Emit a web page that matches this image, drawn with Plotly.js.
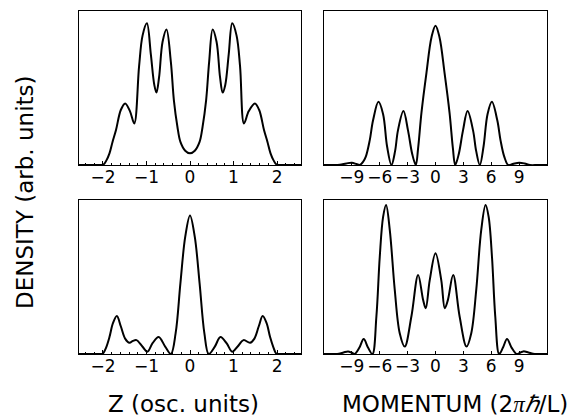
<!DOCTYPE html>
<html><head><meta charset="utf-8">
<script src="https://cdn.plot.ly/plotly-3.0.1.min.js"></script>
<style>html,body{margin:0;padding:0;background:#fff}</style>
</head><body>
<div id="chart" style="width:577px;height:420px"></div>
<script>
// Top-left: density vs position Z (osc. units)
const posTopX = [-2.55,-2.3,-2.05,-1.98,-1.92,-1.85,-1.78,-1.70,-1.59,-1.49,-1.38,-1.28,-1.17,-1.09,-0.99,-0.90,-0.82,-0.77,-0.71,-0.63,-0.54,-0.44,-0.37,-0.29,-0.22,-0.11,0,0.11,0.22,0.29,0.37,0.44,0.52,0.61,0.69,0.75,0.81,0.89,0.97,1.07,1.15,1.24,1.35,1.49,1.59,1.70,1.78,1.85,1.92,1.98,2.05,2.3,2.55];
const posTopY = [0,0,0,0.005,0.03,0.076,0.15,0.227,0.357,0.40,0.35,0.27,0.64,0.84,0.92,0.72,0.52,0.47,0.57,0.80,0.88,0.67,0.42,0.25,0.15,0.093,0.076,0.093,0.15,0.25,0.42,0.67,0.88,0.80,0.57,0.47,0.52,0.72,0.92,0.84,0.64,0.27,0.35,0.40,0.357,0.227,0.15,0.076,0.03,0.005,0,0,0];

// Top-right: momentum distribution
const momTopX = [-12,-11,-10.3,-9.6,-9.0,-8.5,-8.16,-7.8,-7.5,-7.08,-6.72,-6.14,-5.64,-5.21,-4.74,-4.35,-4.04,-3.45,-2.96,-2.5,-2.12,-1.87,-1.51,-0.97,-0.43,0,0.43,0.97,1.51,1.87,2.12,2.5,2.96,3.45,4.04,4.38,4.77,5.17,5.6,6.07,6.65,7.0,7.4,7.83,8.3,9.0,9.6,10.16,11,12];
const momTopY = [0,0,0.002,0.01,0.015,0.006,0,0.02,0.054,0.16,0.29,0.41,0.33,0.12,0,0.09,0.225,0.35,0.225,0.07,0,0.11,0.34,0.60,0.83,0.905,0.83,0.60,0.34,0.11,0,0.07,0.225,0.35,0.225,0.09,0,0.12,0.33,0.41,0.29,0.16,0.054,0,0.006,0.015,0.01,0,0,0];

// Bottom-left: density vs position
const posBotX = [-2.55,-2.3,-2.05,-2.0,-1.93,-1.85,-1.77,-1.68,-1.59,-1.49,-1.39,-1.31,-1.23,-1.09,-0.98,-0.86,-0.72,-0.57,-0.44,-0.33,-0.22,-0.11,0,0.11,0.22,0.33,0.43,0.57,0.70,0.84,0.97,1.09,1.23,1.38,1.48,1.58,1.67,1.76,1.84,1.92,1.98,2.05,2.3,2.55];
const posBotY = [0,0,0,0.003,0.04,0.11,0.20,0.247,0.18,0.10,0.073,0.085,0.09,0.047,0.015,0.07,0.11,0.048,0,0.135,0.46,0.76,0.90,0.76,0.46,0.135,0,0.048,0.11,0.07,0.015,0.047,0.09,0.073,0.10,0.18,0.247,0.20,0.11,0.04,0.003,0,0,0];

// Bottom-right: momentum distribution
const momBotX = [-12,-11,-10.4,-9.9,-9.41,-9.0,-8.7,-8.2,-7.73,-7.25,-6.79,-6.36,-6.0,-5.64,-5.32,-4.92,-4.39,-3.85,-3.31,-2.59,-1.87,-1.33,-1.05,-0.62,0,0.62,1.0,1.33,1.90,2.59,3.34,3.85,4.39,4.92,5.39,5.72,6.08,6.43,6.85,7.25,7.7,8.2,8.73,9.1,9.45,10.0,10.5,11,12];
const momBotY = [0,0,0.002,0.01,0.017,0.008,0,0.04,0.097,0.04,0,0.245,0.63,0.89,0.967,0.805,0.42,0.135,0.048,0.245,0.513,0.35,0.297,0.48,0.654,0.48,0.297,0.35,0.513,0.245,0.048,0.135,0.42,0.805,0.967,0.89,0.63,0.245,0,0.04,0.097,0.04,0,0.008,0.017,0.01,0.002,0,0];

const posTicks = [-2,-1,0,1,2];
const momTicks = [-9,-6,-3,0,3,6,9];

const W = 577, H = 420;
const px = v => v / W;
const py = v => 1 - v / H;

const lineStyle = {color:'#000', width:2, shape:'spline', smoothing:1};
const mk = (x, y, xa, ya) => ({x, y, xaxis:xa, yaxis:ya, type:'scatter', mode:'lines', line:lineStyle, hoverinfo:'skip'});

const data = [
  mk(posTopX, posTopY, 'x', 'y'),
  mk(momTopX, momTopY, 'x2', 'y2'),
  mk(posBotX, posBotY, 'x3', 'y3'),
  mk(momBotX, momBotY, 'x4', 'y4')
];

const tickFont = {family:'DejaVu Sans', size:17, color:'#000'};
const fmt = v => v < 0 ? '\u2212' + Math.abs(v) : String(v);
const xPos = (dom, anchor) => ({
  domain: dom, anchor, range:[-2.55,2.55], tickmode:'array', tickvals:posTicks,
  ticktext: posTicks.map(fmt),
  ticks:'inside', ticklen:4, tickcolor:'#000', tickwidth:1, tickangle:0, ticklabelstandoff:-3,
  minor:{tickmode:'linear', tick0:0, dtick:0.2, ticks:'inside', ticklen:2, tickcolor:'#000'},
  showline:true, mirror:true, linecolor:'#000', linewidth:1,
  showgrid:false, zeroline:false, tickfont:tickFont, fixedrange:true
});
const xMom = (dom, anchor) => ({
  domain: dom, anchor, range:[-12,12], tickmode:'array', tickvals:momTicks,
  ticktext: momTicks.map(fmt),
  ticks:'inside', ticklen:3, tickcolor:'#000', tickwidth:1, tickangle:0, ticklabelstandoff:-3,
  showline:true, mirror:true, linecolor:'#000', linewidth:1,
  showgrid:false, zeroline:false, tickfont:tickFont, fixedrange:true
});
const yAx = (dom, anchor) => ({
  domain: dom, anchor, range:[0,1], showticklabels:false, ticks:'',
  showline:true, mirror:true, linecolor:'#000', linewidth:1,
  showgrid:false, zeroline:false, fixedrange:true
});

const leftDom = [px(79), px(301)];
const rightDom = [px(324), px(547)];
const topDom = [py(165), py(11)];
const botDom = [py(354), py(200)];

const titleFont = {family:'DejaVu Sans', size:23, color:'#000'};

const layout = {
  width:W, height:H, margin:{l:0,r:0,t:0,b:0},
  paper_bgcolor:'#fff', plot_bgcolor:'#fff', showlegend:false,
  xaxis: xPos(leftDom, 'y'), yaxis: yAx(topDom, 'x'),
  xaxis2: xMom(rightDom, 'y2'), yaxis2: yAx(topDom, 'x2'),
  xaxis3: xPos(leftDom, 'y3'), yaxis3: yAx(botDom, 'x3'),
  xaxis4: xMom(rightDom, 'y4'), yaxis4: yAx(botDom, 'x4'),
  annotations: [
    {text:'DENSITY (arb. units)', xref:'paper', yref:'paper', x:px(25), y:py(192),
     xanchor:'center', yanchor:'middle', textangle:-90, showarrow:false, font:titleFont},
    {text:'Z (osc. units)', xref:'paper', yref:'paper', x:px(183), y:py(404),
     xanchor:'center', yanchor:'middle', showarrow:false, font:titleFont},
    {text:'MOMENTUM (2<span style="font-family:\'Liberation Serif\'"><i>\u03c0\u210f</i></span>/L)', xref:'paper', yref:'paper', x:px(455), y:py(404),
     xanchor:'center', yanchor:'middle', showarrow:false, font:titleFont}
  ]
};

Plotly.newPlot('chart', data, layout, {staticPlot:true, displayModeBar:false});
</script>
</body></html>
